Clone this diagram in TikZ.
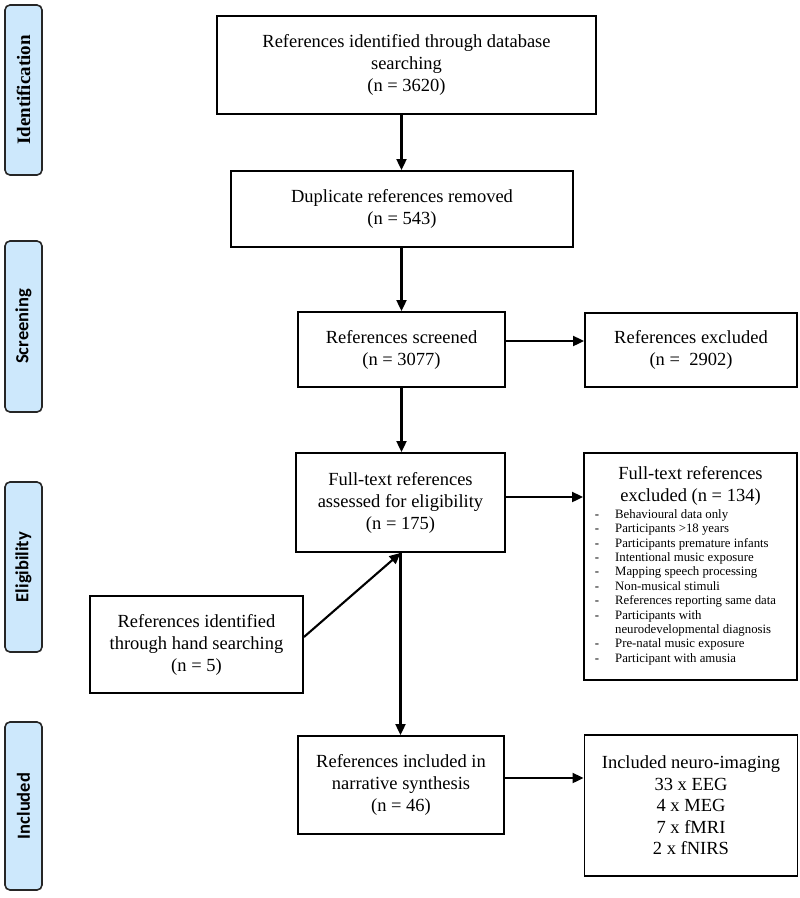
\documentclass[tikz,border=0pt]{standalone}
\usepackage{fontspec}
\setmainfont{Liberation Serif}
\newfontfamily\calib{Carlito}
\usetikzlibrary{arrows.meta}
\definecolor{phaseblue}{RGB}{205,232,252}
\begin{document}
\begin{tikzpicture}[x=1pt,y=-1pt,
  box/.style={draw, line width=1.9pt, rectangle, align=center, inner sep=0pt,
    font=\fontsize{18.5}{22}\selectfont},
  phase/.style={draw=black!85, line width=1.6pt, fill=phaseblue, rounded corners=5pt,
    rotate=90, minimum height=37pt, inner sep=0pt},
  phasesans/.style={phase, font=\calib\fontsize{18.5}{20}\selectfont\bfseries},
  arr/.style={line width=2.1pt, -{Triangle[length=11pt,width=10pt]}}]
\useasboundingbox (0,0) rectangle (800,898);

% phase labels
\node[phase, minimum width=170pt, font=\fontsize{19}{20}\selectfont\bfseries] (pid) at (23.5,90) {Identification};
\node[phasesans, minimum width=171pt] (psc) at (23.5,326.5) {Screening};
\node[phasesans, minimum width=170pt] (pel) at (23.5,567) {Eligibility};
\node[phasesans, minimum width=168pt] (pin) at (23.5,806) {Included};

% main boxes
\node[box, minimum width=379pt, minimum height=98pt] (db) at (406.5,65)
  {References identified through database\\searching\\(n = 3620)};
\node[box, minimum width=342pt, minimum height=76pt] (dup) at (402,209)
  {Duplicate references removed\\(n = 543)};
\node[box, minimum width=207pt, minimum height=75pt] (scr) at (401.5,349.5)
  {References screened\\(n = 3077)};
\node[box, minimum width=212pt, minimum height=74pt] (exc) at (691,350)
  {References excluded\\(n = \ 2902)};
\node[box, minimum width=209pt, minimum height=99pt] (ft) at (400.5,502.5)
  {Full-text references\\assessed for eligibility\\(n = 175)};
\node[box, minimum width=213pt, minimum height=227pt] (ftex) at (690.5,566.5)
  {Full-text references\\excluded (n = 134)\\[-5pt]
   {\fontsize{12.8}{14.4}\selectfont
   \begin{tabular}[t]{@{}l@{\hspace{16pt}}l@{}}
   - & Behavioural data only\\
   - & Participants >18 years\\
   - & Participants premature infants\\
   - & Intentional music exposure\\
   - & Mapping speech processing\\
   - & Non-musical stimuli\\
   - & References reporting same data\\
   - & Participants with\\
     & neurodevelopmental diagnosis\\
   - & Pre-natal music exposure\\
   - & Participant with amusia
   \end{tabular}\hspace*{10pt}}};
\node[box, minimum width=213pt, minimum height=97pt] (hand) at (196.5,644.5)
  {References identified\\through hand searching\\(n = 5)};
\node[box, minimum width=206pt, minimum height=98pt] (inc) at (401,785)
  {References included in\\narrative synthesis\\(n = 46)};
\node[box, minimum width=213pt, minimum height=141pt, font=\fontsize{18.5}{21.5}\selectfont] (neuro) at (691,805.5)
  {Included neuro-imaging\\33 x EEG\\4 x MEG\\7 x fMRI\\2 x fNIRS};

% connectors
\draw[arr] (db.south -| scr) -- (dup.north -| scr);
\draw[arr] (dup.south -| scr) -- (scr.north);
\draw[arr] ([yshift=8.5pt]scr.east) -- ([yshift=8.5pt]scr.east -| exc.west);
\draw[arr] (scr.south) -- (scr.south |- ft.north);
\draw[arr] ([yshift=5.5pt]ft.east) -- ([yshift=5.5pt]ft.east -| ftex.west);
\draw[arr] ([yshift=7.5pt]hand.east) -- (ft.south);
\draw[arr] (ft.south) -- (ft.south |- inc.north);
\draw[arr] ([yshift=7pt]inc.east) -- ([yshift=7pt]inc.east -| neuro.west);
\end{tikzpicture}
\end{document}
